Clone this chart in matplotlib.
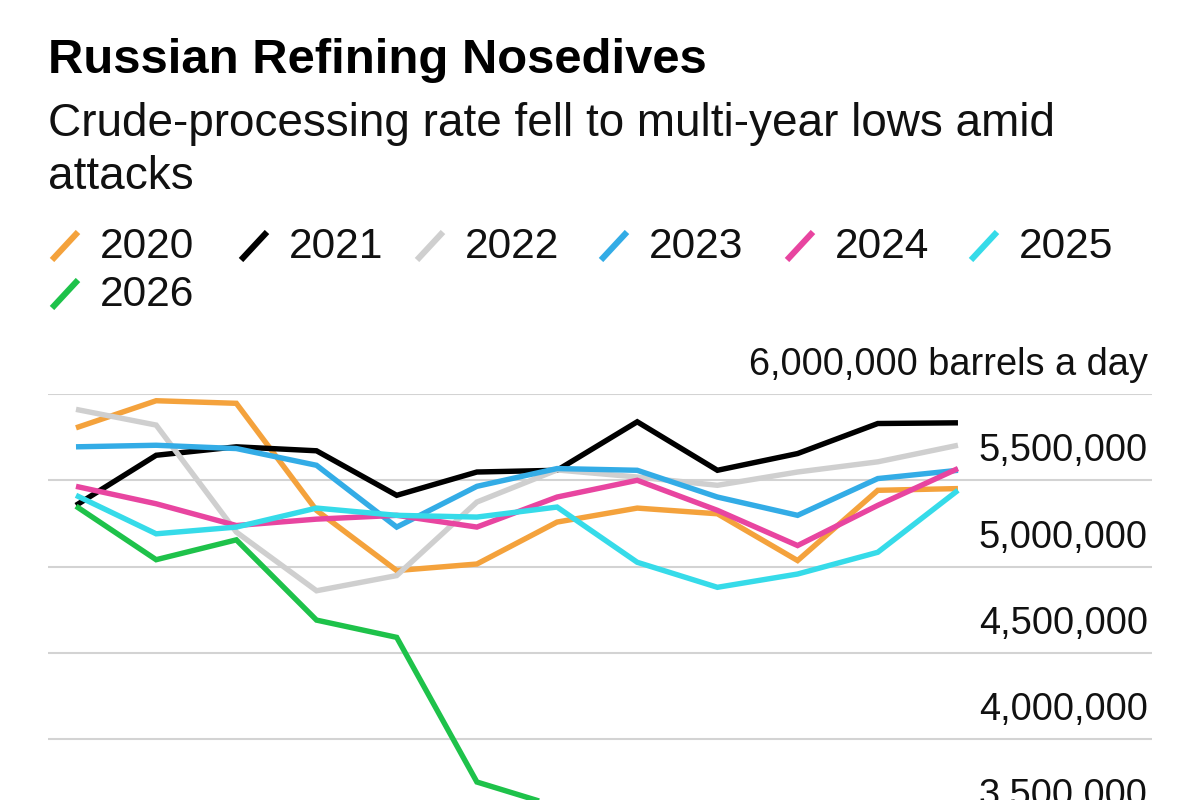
import matplotlib
matplotlib.use("Agg")
import matplotlib.pyplot as plt
from matplotlib.lines import Line2D

plt.rcParams['font.family'] = ['Liberation Sans', 'DejaVu Sans']

# ---- data (barrels a day), 12 periods ----
years = ["2020", "2021", "2022", "2023", "2024", "2025", "2026"]
colors = ["#f4a23c", "#000000", "#cfcfcf", "#33ace6", "#e845a0", "#36dbe9", "#1ec24a"]

v2020 = [5804000, 5961000, 5946000, 5326000, 4977000, 5015000, 5258000, 5339000, 5306000, 5035000, 5442000, 5452000]
v2021 = [5355000, 5645000, 5694000, 5671000, 5413000, 5548000, 5558000, 5839000, 5558000, 5655000, 5829000, 5833000]
v2022 = [5911000, 5820000, 5200000, 4860000, 4948000, 5374000, 5560000, 5519000, 5471000, 5548000, 5607000, 5703000]
v2023 = [5694000, 5703000, 5684000, 5587000, 5229000, 5465000, 5568000, 5558000, 5403000, 5297000, 5510000, 5558000]
v2024 = [5465000, 5364000, 5238000, 5275000, 5297000, 5229000, 5403000, 5500000, 5326000, 5122000, 5355000, 5568000]
v2025 = [5413000, 5190000, 5229000, 5339000, 5297000, 5287000, 5345000, 5025000, 4880000, 4957000, 5083000, 5442000]
v2026 = [5350000, 5040000, 5155000, 4690000, 4590000, 3752000, 3610000]

series = [v2020, v2021, v2022, v2023, v2024, v2025, v2026]

yticks = [3500000, 4000000, 4500000, 5000000, 5500000, 6000000]
ytick_labels = ["3,500,000", "4,000,000", "4,500,000", "5,000,000", "5,500,000", "6,000,000 barrels a day"]

W, H = 1200, 800
fig = plt.figure(figsize=(12, 8), dpi=100)
fig.patch.set_facecolor("white")

def fx(px):
    return px / W

def fy(py):
    return 1 - py / H

# axes: left 48px, right 1152px; 6M at y=394px, 3.5M at y=825.5px (below the figure edge)
ax_top, ax_bot = 394, 825.5
ax = fig.add_axes([fx(48), fy(ax_bot), fx(1152 - 48), (ax_bot - ax_top) / H])
ax.set_xlim(-0.349, 13.42)
ax.set_ylim(3500000, 6000000)
for s in ax.spines.values():
    s.set_visible(False)
ax.set_xticks([])
ax.set_yticks([])
ax.patch.set_alpha(0)

for yt in yticks:
    ax.axhline(yt, color="#d3d3d3", lw=1.5, zorder=1)

for vals, c in zip(series, colors):
    ax.plot(range(len(vals)), vals, color=c, lw=3.9, solid_joinstyle="miter",
            solid_capstyle="butt", zorder=3)

# y labels: right-aligned, baseline ~19px above gridlines
tr = ax.get_yaxis_transform()
for yt, lab in zip(yticks, ytick_labels):
    ax.annotate(lab, xy=(1, yt), xycoords=tr, xytext=(-3, 13.7), textcoords="offset points",
                ha="right", va="baseline", fontsize=27.4, color="#111111", annotation_clip=False)

# title / subtitle
fig.text(fx(48), fy(73), "Russian Refining Nosedives", fontsize=35.3, fontweight="bold",
         ha="left", va="baseline", color="#000000")
fig.text(fx(48), fy(136), "Crude-processing rate fell to multi-year lows amid", fontsize=33.0,
         ha="left", va="baseline", color="#111111")
fig.text(fx(48), fy(189), "attacks", fontsize=33.0, ha="left", va="baseline", color="#111111")

# legend
leg_pos = [(48, 258), (237, 258), (413, 258), (597, 258), (783, 258), (967, 258), (48, 306)]
for (lx, ly), c, yr in zip(leg_pos, colors, years):
    fig.add_artist(Line2D([fx(lx + 4), fx(lx + 30)], [fy(ly + 2), fy(ly - 26)],
                          color=c, lw=4.4, solid_capstyle="butt", transform=fig.transFigure))
    fig.text(fx(lx + 52), fy(ly), yr, fontsize=30.6, ha="left", va="baseline", color="#111111")

fig.savefig("out.png", dpi=100, facecolor="white")
